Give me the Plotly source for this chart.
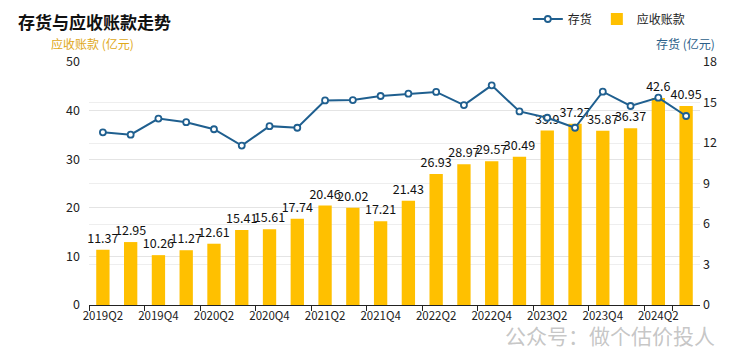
import plotly.graph_objects as go

quarters = ["2019Q2", "2019Q3", "2019Q4", "2020Q1", "2020Q2", "2020Q3", "2020Q4",
            "2021Q1", "2021Q2", "2021Q3", "2021Q4", "2022Q1", "2022Q2", "2022Q3",
            "2022Q4", "2023Q1", "2023Q2", "2023Q3", "2023Q4", "2024Q1", "2024Q2", "2024Q3"]
receivables = [11.37, 12.95, 10.26, 11.27, 12.61, 15.41, 15.61, 17.74, 20.46, 20.02, 17.21,
               21.43, 26.93, 28.97, 29.57, 30.49, 35.9, 37.27, 35.87, 36.37, 42.6, 40.95]
inventory = [12.79, 12.62, 13.81, 13.54, 13.02, 11.81, 13.25, 13.13, 15.15, 15.18, 15.48,
             15.65, 15.78, 14.81, 16.27, 14.34, 13.87, 13.13, 15.80, 14.74, 15.36, 14.00]
tick_labels = ["2019Q2", "2019Q4", "2020Q2", "2020Q4", "2021Q2", "2021Q4",
               "2022Q2", "2022Q4", "2023Q2", "2023Q4", "2024Q2"]

FONT = "Noto Sans CJK SC"
GOLD = "#FFC000"
BLUE = "#1F5F8F"

fig = go.Figure()
fig.add_trace(go.Bar(
    x=quarters, y=receivables, name="应收账款",
    marker=dict(color=GOLD, line=dict(width=0)),
    width=0.48, legendrank=2,
    text=[f"{v:g}" for v in receivables], textposition="outside",
    textfont=dict(size=12.5, color="#111111", family=FONT),
    constraintext="none", cliponaxis=False,
    yaxis="y",
))
fig.add_trace(go.Scatter(
    x=quarters, y=inventory, name="存货", mode="lines+markers", legendrank=1,
    line=dict(color=BLUE, width=2),
    marker=dict(symbol="circle", size=6, color="white", line=dict(color=BLUE, width=1.8)),
    yaxis="y2",
))

fig.update_layout(
    width=713, height=347,
    margin=dict(l=80.6, r=20.5, t=54, b=50, autoexpand=False),
    paper_bgcolor="white", plot_bgcolor="white",
    font=dict(family=FONT, size=11, color="#222222"),
    showlegend=True,
    legend=dict(orientation="h", x=0.985, xanchor="right", y=1.177, yanchor="middle",
                font=dict(size=12, color="#222222"), traceorder="normal",
                itemwidth=30, bgcolor="rgba(0,0,0,0)"),
    xaxis=dict(type="category", range=[-0.5, len(quarters) - 0.5], autorange=False,
               tickmode="array", tickvals=tick_labels, ticktext=tick_labels,
               tickson="boundaries", ticks="outside", ticklen=5, tickcolor="#222222",
               showline=True, linecolor="#222222", linewidth=1, showgrid=False,
               tickfont=dict(size=11.5, color="#222222"), tickangle=0),
    yaxis=dict(range=[0, 50], dtick=10, showgrid=True, gridcolor="#E4E4E4", gridwidth=1,
               zeroline=False, showline=False, tickfont=dict(size=12.5, color="#222222"),
               ticks="", ticklabelstandoff=8),
    yaxis2=dict(range=[0, 18], dtick=3, overlaying="y", side="right", showgrid=True,
                gridcolor="#EEEEEE", gridwidth=1, zeroline=False, showline=False,
                tickfont=dict(size=12.5, color="#222222"), ticklabelstandoff=2),
    annotations=[
        dict(text="<b>存货与应收账款走势</b>", xref="paper", yref="paper", x=-0.119, y=1.167,
             xanchor="left", yanchor="middle", showarrow=False,
             font=dict(size=17, color="#111111", family=FONT)),
        dict(text="应收账款 (亿元)", xref="paper", yref="paper", x=-0.065, y=1.076,
             xanchor="left", yanchor="middle", showarrow=False,
             font=dict(size=12, color="#E0A818", family=FONT)),
        dict(text="存货 (亿元)", xref="paper", yref="paper", x=1.028, y=1.076,
             xanchor="right", yanchor="middle", showarrow=False,
             font=dict(size=12, color="#2C5F8A", family=FONT)),
        dict(text="公众号：做个估价投人", xref="paper", yref="paper", x=0.852, y=-0.123,
             xanchor="center", yanchor="middle", showarrow=False,
             font=dict(size=21, color="rgba(150,150,150,0.55)", family=FONT)),
    ],
)

fig.write_html("out.html")
